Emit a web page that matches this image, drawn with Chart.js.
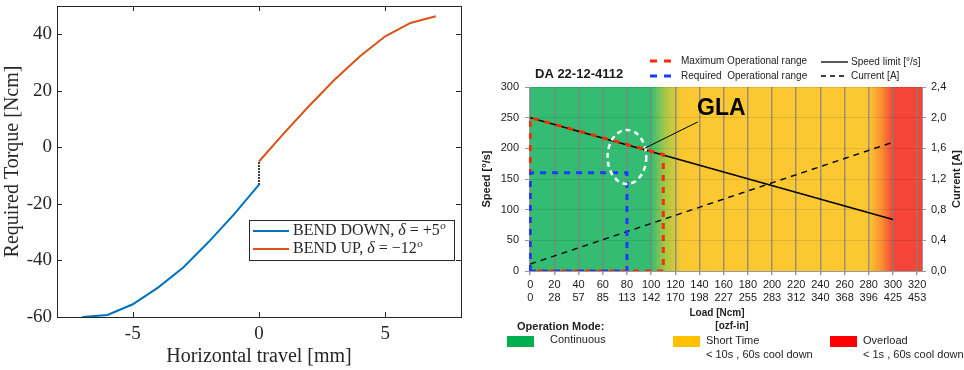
<!DOCTYPE html>
<html>
<head>
<meta charset="utf-8">
<script src="https://cdn.jsdelivr.net/npm/chart.js@4.4.0/dist/chart.umd.min.js"></script>
<style>
    body { margin: 0; background: #ffffff; width: 964px; height: 370px; overflow: hidden; }
    #torqueChart { position: absolute; left: 0; top: 0; }
    #motorChart { position: absolute; left: 480px; top: 0; }
</style>
</head>
<body>
<canvas id="torqueChart" width="470" height="370"></canvas>
<canvas id="motorChart" width="484" height="370"></canvas>
<script>
// Left chart: required torque vs horizontal travel
const travelDown = [-7, -6, -5, -4, -3, -2, -1, 0];
const torqueDown = [-60, -59.3, -55.5, -49.6, -42.5, -33.5, -23.8, -13.2];
const travelUp = [0, 1, 2, 3, 4, 5, 6, 7];
const torqueUp = [-5, 5.1, 14.8, 24, 32.2, 39.3, 44, 46.4];
const travelTicks = [-5, 0, 5];
const torqueTicks = [-60, -40, -20, 0, 20, 40];

// Right chart: motor data sheet
const loadNcm = [0, 20, 40, 60, 80, 100, 120, 140, 160, 180, 200, 220, 240, 260, 280, 300, 320];
const loadOzf = [0, 28, 57, 85, 113, 142, 170, 198, 227, 255, 283, 312, 340, 368, 396, 425, 453];
const speedTicks = [0, 50, 100, 150, 200, 250, 300];
const currentTicks = [0, 0.2, 0.4, 0.6, 0.8, 1.0, 1.2, 1.4, 1.6, 1.8, 2.0, 2.2, 2.4];
const speedLimitLoad = [0, 300];
const speedLimit = [250, 84];
const currentLoad = [0, 300];
const current = [0.09, 1.68];
const maxRangeLoad = [0, 0, 110, 110, 0];
const maxRangeSpeed = [0, 250, 190, 0, 0];
const reqRangeLoad = [0, 0, 80, 80, 0];
const reqRangeSpeed = [0, 160, 160, 0, 0];

const SERIF = "'Liberation Serif', 'DejaVu Serif', serif";
const SANS = "'Liberation Sans', 'DejaVu Sans', sans-serif";
const TEXT_DARK = '#262626';

function toPoints(xs, ys) {
    return xs.map((x, i) => ({ x: x, y: ys[i] }));
}

function fixedTicks(values) {
    return function(scale) {
        scale.ticks = values.map(v => ({ value: v }));
    };
}

function noEdgePadding(scale) {
    scale.paddingTop = 0;
    scale.paddingBottom = 0;
    scale.paddingLeft = 0;
    scale.paddingRight = 0;
}

// box round the axes with inward ticks, MATLAB style
const matlabBox = {
    id: 'matlabBox',
    afterDatasetsDraw(chart) {
        const ctx = chart.ctx;
        const a = chart.chartArea;
        const xs = chart.scales.x;
        const ys = chart.scales.y;
        ctx.save();
        ctx.strokeStyle = TEXT_DARK;
        ctx.lineWidth = 1;
        ctx.strokeRect(a.left + 0.5, a.top + 0.5, a.right - a.left, a.bottom - a.top);
        ctx.beginPath();
        travelTicks.forEach(v => {
            const px = Math.round(xs.getPixelForValue(v)) + 0.5;
            ctx.moveTo(px, a.bottom); ctx.lineTo(px, a.bottom - 5);
            ctx.moveTo(px, a.top); ctx.lineTo(px, a.top + 5);
        });
        torqueTicks.forEach(v => {
            const py = Math.round(ys.getPixelForValue(v)) + 0.5;
            ctx.moveTo(a.left, py); ctx.lineTo(a.left + 5, py);
            ctx.moveTo(a.right, py); ctx.lineTo(a.right - 5, py);
        });
        ctx.stroke();

        // legend inside the plot
        const bx = a.right - 212, by = a.top + 214, bw = 205, bh = 40;
        ctx.fillStyle = '#ffffff';
        ctx.fillRect(bx, by, bw, bh);
        ctx.strokeStyle = TEXT_DARK;
        ctx.strokeRect(bx + 0.5, by + 0.5, bw, bh);
        const rows = [
            { color: '#0072BD', name: 'BEND DOWN, ', value: ' = +5' },
            { color: '#D95319', name: 'BEND UP, ', value: ' = \u221212' }
        ];
        rows.forEach((row, i) => {
            const y = by + 11 + i * 18;
            ctx.strokeStyle = row.color;
            ctx.lineWidth = 2;
            ctx.beginPath();
            ctx.moveTo(bx + 4, y); ctx.lineTo(bx + 40, y);
            ctx.stroke();
            let x = bx + 44;
            ctx.fillStyle = TEXT_DARK;
            ctx.textBaseline = 'middle';
            ctx.textAlign = 'left';
            ctx.font = '16px ' + SERIF;
            ctx.fillText(row.name, x, y);
            x += ctx.measureText(row.name).width;
            ctx.font = 'italic 16px ' + SERIF;
            ctx.fillText('\u03B4', x, y);
            x += ctx.measureText('\u03B4').width;
            ctx.font = '16px ' + SERIF;
            ctx.fillText(row.value, x, y);
            x += ctx.measureText(row.value).width;
            ctx.font = 'italic 11px ' + SERIF;
            ctx.fillText('o', x + 0.5, y - 5);
        });
        ctx.restore();
    }
};

new Chart(document.getElementById('torqueChart'), {
    type: 'line',
    data: {
        datasets: [{
            label: 'BEND DOWN',
            data: toPoints(travelDown, torqueDown),
            borderColor: '#0072BD',
            borderWidth: 2,
            pointRadius: 0
        }, {
            label: 'BEND UP',
            data: toPoints(travelUp, torqueUp),
            borderColor: '#D95319',
            borderWidth: 2,
            pointRadius: 0
        }, {
            label: 'jump',
            data: toPoints([0, 0], [torqueDown[torqueDown.length - 1], torqueUp[0]]),
            borderColor: '#000000',
            borderWidth: 2,
            borderDash: [1.5, 1.5],
            pointRadius: 0
        }]
    },
    options: {
        responsive: false,
        animation: false,
        devicePixelRatio: 1,
        layout: { padding: { top: 6, right: 9, left: 0, bottom: 0 } },
        plugins: { legend: { display: false }, tooltip: { enabled: false } },
        scales: {
            x: {
                type: 'linear',
                min: -8,
                max: 8,
                afterBuildTicks: fixedTicks(travelTicks),
                afterFit(scale) { scale.height = 53; noEdgePadding(scale); },
                grid: { display: false, drawTicks: false },
                border: { display: false },
                ticks: {
                    padding: 6,
                    color: TEXT_DARK,
                    font: { family: SERIF, size: 19 }
                },
                title: {
                    display: true,
                    text: 'Horizontal travel [mm]',
                    color: TEXT_DARK,
                    font: { family: SERIF, size: 20 },
                    padding: { top: 0, bottom: 1 }
                }
            },
            y: {
                min: -60,
                max: 50,
                afterBuildTicks: fixedTicks(torqueTicks),
                afterFit(scale) { scale.width = 57; noEdgePadding(scale); },
                grid: { display: false, drawTicks: false },
                border: { display: false },
                ticks: {
                    padding: 5,
                    color: TEXT_DARK,
                    font: { family: SERIF, size: 19 }
                },
                title: {
                    display: true,
                    text: 'Required Torque [Ncm]',
                    color: TEXT_DARK,
                    font: { family: SERIF, size: 20 },
                    padding: { top: 1, bottom: 0 }
                }
            }
        }
    },
    plugins: [matlabBox]
});

// colour zones behind the motor chart
const zoneBackground = {
    id: 'zoneBackground',
    beforeDraw(chart) {
        const ctx = chart.ctx;
        const a = chart.chartArea;
        const xs = chart.scales.x;
        const w = a.right - a.left;
        const stop = v => Math.min(1, Math.max(0, (xs.getPixelForValue(v) - a.left) / w));
        const grad = ctx.createLinearGradient(a.left, 0, a.right, 0);
        grad.addColorStop(0, 'rgb(52,189,114)');
        grad.addColorStop(stop(100), 'rgb(52,189,114)');
        grad.addColorStop(stop(112), 'rgb(170,200,70)');
        grad.addColorStop(stop(126), 'rgb(252,200,50)');
        grad.addColorStop(stop(280), 'rgb(252,200,50)');
        grad.addColorStop(stop(291), 'rgb(250,140,50)');
        grad.addColorStop(stop(300), 'rgb(245,68,56)');
        grad.addColorStop(1, 'rgb(245,68,56)');
        ctx.save();
        ctx.fillStyle = grad;
        ctx.fillRect(a.left, a.top, w, a.bottom - a.top);
        ctx.restore();
    }
};

// annotation, legends and extra labels of the motor chart
const motorDecor = {
    id: 'motorDecor',
    afterDatasetsDraw(chart) {
        const ctx = chart.ctx;
        const xs = chart.scales.x;
        const ys = chart.scales.y;
        ctx.save();
        // GLA circle and pointer
        const cx = xs.getPixelForValue(80), cy = ys.getPixelForValue(186);
        const rx = xs.getPixelForValue(96) - cx, ry = cy - ys.getPixelForValue(230);
        ctx.strokeStyle = '#ffffff';
        ctx.lineWidth = 2.5;
        ctx.setLineDash([5, 4]);
        ctx.beginPath();
        ctx.ellipse(cx, cy, rx, ry, 0, 0, Math.PI * 2);
        ctx.stroke();
        ctx.setLineDash([]);
        ctx.strokeStyle = '#000000';
        ctx.lineWidth = 1;
        ctx.beginPath();
        ctx.moveTo(xs.getPixelForValue(94.5), ys.getPixelForValue(200));
        ctx.lineTo(xs.getPixelForValue(138.5), ys.getPixelForValue(243));
        ctx.stroke();
        ctx.fillStyle = '#000000';
        ctx.font = 'bold 23px ' + SANS;
        ctx.textAlign = 'center';
        ctx.textBaseline = 'middle';
        ctx.fillText('GLA', xs.getPixelForValue(158), ys.getPixelForValue(265));

        // title and line legend
        ctx.fillStyle = '#1a1a1a';
        ctx.textAlign = 'left';
        ctx.font = 'bold 13px ' + SANS;
        ctx.fillText('DA 22-12-4112', 55, 74);
        const lines = [
            { x: 170, y: 61, color: '#ff2a00', width: 3, dash: [7, 7], len: 22, gap: 9, text: 'Maximum Operational range' },
            { x: 170, y: 76, color: '#1a3cff', width: 3, dash: [7, 7], len: 22, gap: 9, text: 'Required  Operational range' },
            { x: 341, y: 62, color: '#000000', width: 1.3, dash: [], len: 27, gap: 3, text: 'Speed limit [\u00B0/s]' },
            { x: 341, y: 76, color: '#000000', width: 1.3, dash: [5, 4], len: 27, gap: 3, text: 'Current [A]' }
        ];
        ctx.font = '10px ' + SANS;
        lines.forEach(l => {
            ctx.strokeStyle = l.color;
            ctx.lineWidth = l.width;
            ctx.setLineDash(l.dash);
            ctx.beginPath();
            ctx.moveTo(l.x, l.y); ctx.lineTo(l.x + l.len, l.y);
            ctx.stroke();
            ctx.setLineDash([]);
            ctx.fillStyle = '#222222';
            ctx.fillText(l.text, l.x + l.len + l.gap, l.y);
        });

        // right axis title, reading upwards
        ctx.save();
        ctx.translate(477, 179);
        ctx.rotate(-Math.PI / 2);
        ctx.textAlign = 'center';
        ctx.font = 'bold 11px ' + SANS;
        ctx.fillText('Current [A]', 0, 0);
        ctx.restore();

        // load axis titles
        ctx.textAlign = 'center';
        ctx.font = 'bold 10px ' + SANS;
        ctx.fillText('Load [Ncm]', 237, 313);
        ctx.fillText('[ozf-in]', 252, 326);

        // operation mode legend
        ctx.textAlign = 'left';
        ctx.font = 'bold 11px ' + SANS;
        ctx.fillText('Operation Mode:', 37, 327);
        const modes = [
            { x: 27, color: '#00B050', text: ['Continuous'] },
            { x: 193, color: '#FFC000', text: ['Short Time', '< 10s , 60s cool down'] },
            { x: 350, color: '#FF0000', text: ['Overload', '< 1s , 60s cool down'] }
        ];
        ctx.font = '11px ' + SANS;
        modes.forEach((m, i) => {
            ctx.fillStyle = m.color;
            ctx.fillRect(m.x, 336, 27, 11);
            ctx.fillStyle = '#222222';
            const tx = i === 0 ? m.x + 43 : m.x + 33;
            m.text.forEach((t, j) => ctx.fillText(t, tx, (i === 0 ? 340 : 341) + j * 14));
        });
        ctx.restore();
    }
};

new Chart(document.getElementById('motorChart'), {
    type: 'line',
    data: {
        datasets: [{
            label: 'Required  Operational range',
            data: toPoints(reqRangeLoad, reqRangeSpeed),
            borderColor: '#1a3cff',
            borderWidth: 3,
            borderDash: [6, 6],
            pointRadius: 0,
            yAxisID: 'y',
            order: 1
        }, {
            label: 'Maximum Operational range',
            data: toPoints(maxRangeLoad, maxRangeSpeed),
            borderColor: '#ff2a00',
            borderWidth: 3,
            borderDash: [6, 6],
            pointRadius: 0,
            yAxisID: 'y',
            order: 2
        }, {
            label: 'Speed limit [\u00B0/s]',
            data: toPoints(speedLimitLoad, speedLimit),
            borderColor: '#000000',
            borderWidth: 1.6,
            pointRadius: 0,
            yAxisID: 'y',
            order: 3
        }, {
            label: 'Current [A]',
            data: toPoints(currentLoad, current),
            borderColor: '#000000',
            borderWidth: 1.4,
            borderDash: [6, 5],
            pointRadius: 0,
            yAxisID: 'y2',
            order: 4
        }]
    },
    options: {
        responsive: false,
        animation: false,
        devicePixelRatio: 1,
        layout: { padding: { top: 87, right: 0, left: 0, bottom: 0 } },
        plugins: { legend: { display: false }, tooltip: { enabled: false } },
        scales: {
            x: {
                type: 'linear',
                min: -1,
                max: 324,
                afterBuildTicks: fixedTicks(loadNcm),
                afterFit(scale) { scale.height = 99; },
                grid: { color: 'rgba(130,130,130,0.8)', lineWidth: 1.5, tickLength: 4, tickColor: 'rgba(130,130,130,0.8)' },
                border: { color: '#999999' },
                ticks: {
                    padding: 3,
                    color: '#1a1a1a',
                    font: { family: SANS, size: 11 },
                    callback: (v, i) => [String(loadNcm[i]), String(loadOzf[i])]
                }
            },
            y: {
                min: 0,
                max: 300,
                afterBuildTicks: fixedTicks(speedTicks),
                afterFit(scale) { scale.width = 49; },
                grid: { color: 'rgba(0,0,0,0.09)', lineWidth: 1, tickLength: 4, tickColor: '#999999' },
                border: { color: '#999999' },
                ticks: { padding: 6, color: '#1a1a1a', font: { family: SANS, size: 11 } },
                title: {
                    display: true,
                    text: 'Speed [\u00B0/s]',
                    color: '#1a1a1a',
                    font: { family: SANS, size: 11, weight: 'bold' },
                    padding: { top: 0, bottom: 0 }
                }
            },
            y2: {
                position: 'right',
                min: 0,
                max: 2.4,
                afterBuildTicks: fixedTicks(currentTicks),
                afterFit(scale) { scale.width = 42; },
                grid: { drawOnChartArea: false, tickLength: 4, tickColor: '#999999' },
                border: { color: '#999999' },
                ticks: {
                    padding: 5,
                    color: '#1a1a1a',
                    font: { family: SANS, size: 11 },
                    callback: v => v.toFixed(1).replace('.', ',')
                }
            }
        }
    },
    plugins: [zoneBackground, motorDecor]
});
</script>
</body>
</html>
